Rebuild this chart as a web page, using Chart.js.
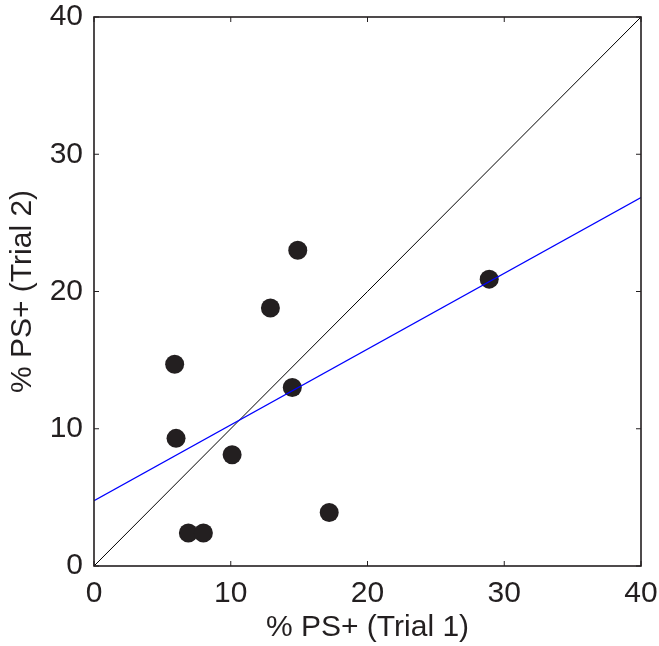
<!DOCTYPE html>
<html>
<head>
<meta charset="utf-8">
<script src="https://cdn.jsdelivr.net/npm/chart.js@4.4.1/dist/chart.umd.min.js"></script>
<style>
  html, body { margin: 0; padding: 0; background: #ffffff; }
  #wrap { width: 659px; height: 646px; }
</style>
</head>
<body>
<div id="wrap"><canvas id="scatterChart" width="659" height="646"></canvas></div>
<script>
// trial values
const trial1 = [5.9, 6.0, 6.9, 8.0, 10.1, 12.9, 14.5, 14.9, 17.2, 28.9];
const trial2 = [14.7, 9.3, 2.4, 2.4, 8.1, 18.8, 13.0, 23.0, 3.9, 20.9];

// identity line and fitted line end points
const identityX = [0, 40];
const identityY = [0, 40];
const fitX = [0, 40];
const fitY = [4.75, 26.85];

const tickValues = [0, 10, 20, 30, 40];

function toPoints(xs, ys) {
  return xs.map((x, i) => ({ x: x, y: ys[i] }));
}

const frameColor = "#231f20";
const fontFamily = "'Liberation Sans', Arial, Helvetica, sans-serif";

// box round the plot with inward ticks on all four sides
const framePlugin = {
  id: "frame",
  afterDraw(chart) {
    const ctx = chart.ctx;
    const a = chart.chartArea;
    const xs = chart.scales.x;
    const ys = chart.scales.y;
    const len = 5;
    ctx.save();
    ctx.strokeStyle = frameColor;
    ctx.lineWidth = 1;
    ctx.beginPath();
    tickValues.forEach(v => {
      const px = xs.getPixelForValue(v);
      const py = ys.getPixelForValue(v);
      ctx.moveTo(px, a.bottom); ctx.lineTo(px, a.bottom - len);
      ctx.moveTo(px, a.top); ctx.lineTo(px, a.top + len);
      ctx.moveTo(a.left, py); ctx.lineTo(a.left + len, py);
      ctx.moveTo(a.right, py); ctx.lineTo(a.right - len, py);
    });
    ctx.stroke();
    ctx.lineWidth = 1.6;
    ctx.strokeRect(a.left, a.top, a.right - a.left, a.bottom - a.top);
    ctx.restore();
  }
};

// keep the plot box fixed: no extra room for labels hanging over the ends
function fixScale(scale, size) {
  if (scale.isHorizontal()) scale.height = size; else scale.width = size;
  scale.paddingTop = 0;
  scale.paddingBottom = 0;
  scale.paddingLeft = 0;
  scale.paddingRight = 0;
}

document.addEventListener("DOMContentLoaded", function () {
  const ctx = document.getElementById("scatterChart").getContext("2d");

  new Chart(ctx, {
    type: "scatter",
    data: {
      datasets: [
        {
          label: "fit",
          data: toPoints(fitX, fitY),
          showLine: true,
          borderColor: "#0000ff",
          borderWidth: 1.3,
          pointRadius: 0,
          fill: false,
          order: 0,
        },
        {
          label: "identity",
          data: toPoints(identityX, identityY),
          showLine: true,
          borderColor: "#000000",
          borderWidth: 1,
          pointRadius: 0,
          fill: false,
          order: 1,
        },
        {
          label: "subjects",
          data: toPoints(trial1, trial2),
          backgroundColor: frameColor,
          borderColor: frameColor,
          borderWidth: 0,
          pointRadius: 9.5,
          order: 2,
        },
      ],
    },
    options: {
      responsive: false,
      animation: false,
      devicePixelRatio: 1,
      layout: { padding: { top: 17, right: 18, left: 0, bottom: 0 } },
      plugins: {
        legend: { display: false },
        tooltip: { enabled: false },
      },
      scales: {
        x: {
          type: "linear",
          min: 0,
          max: 40,
          afterBuildTicks: scale => { scale.ticks = tickValues.map(v => ({ value: v })); },
          afterFit: scale => fixScale(scale, 80),
          grid: { display: false, drawTicks: false },
          border: { display: false },
          ticks: {
            color: "#231f20",
            padding: 10,
            maxRotation: 0,
            font: { family: fontFamily, size: 30 },
          },
          title: {
            display: true,
            text: "% PS+ (Trial 1)",
            color: "#231f20",
            padding: { top: 0, bottom: 0 },
            font: { family: fontFamily, size: 30 },
          },
        },
        y: {
          type: "linear",
          min: 0,
          max: 40,
          afterBuildTicks: scale => { scale.ticks = tickValues.map(v => ({ value: v })); },
          afterFit: scale => fixScale(scale, 94),
          grid: { display: false, drawTicks: false },
          border: { display: false },
          ticks: {
            color: "#231f20",
            padding: 11,
            font: { family: fontFamily, size: 30 },
          },
          title: {
            display: true,
            text: "% PS+ (Trial 2)",
            color: "#231f20",
            padding: { top: 5, bottom: 0 },
            font: { family: fontFamily, size: 30 },
          },
        },
      },
    },
    plugins: [framePlugin],
  });
});
</script>
</body>
</html>
